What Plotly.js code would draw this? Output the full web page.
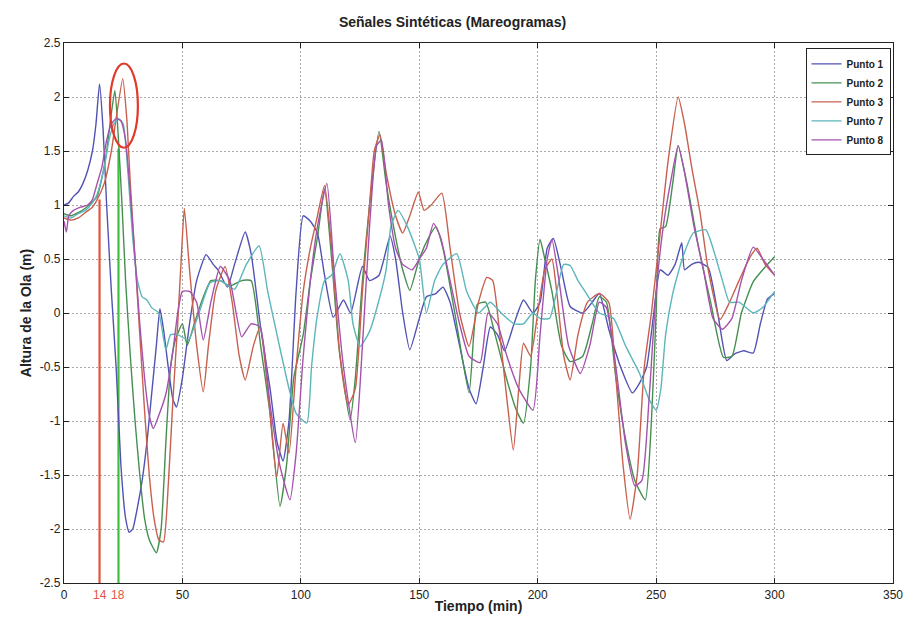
<!DOCTYPE html>
<html>
<head>
<meta charset="utf-8">
<script src="https://cdn.plot.ly/plotly-3.0.1.min.js"></script>
<style>html,body{margin:0;padding:0;background:#fff;}#chart{width:905px;height:620px;}</style>
</head>
<body>
<div id="chart"></div>
<script>
// Punto 1 (blue)
const p1x = [0,2,4,6,8,10,12,13.5,15,16.5,18,20,22,24,26,27.5,29,31,33,35,37,39,40.5,42,44,46,47.5,50,53,56,60,63,65,69,72,76.5,79,83,87,90,92.5,95,98,101,104,107,110,113.7,118,121,126,129,133,137.7,140,143,146,150,153,157,160,163,167,171,174,177,180,183,186,190,194,198,201,204,206.6,210,213.7,219,223,226,230,235,240,243,246,249,251.7,255,258,260.8,262,265,268,272,276,279.8,283,287,291,294,297,300];
const p1y = [1.0,1.02,1.08,1.12,1.2,1.32,1.5,1.75,2.12,1.7,1.0,0.2,-0.5,-1.4,-1.9,-2.03,-2.0,-1.8,-1.55,-1.2,-0.75,-0.3,0.04,-0.15,-0.5,-0.8,-0.87,-0.6,-0.1,0.3,0.54,0.45,0.4,0.24,0.45,0.75,0.55,-0.13,-0.7,-1.2,-1.37,-1.0,0.2,0.9,0.85,0.74,0.35,-0.04,0.12,0.0,0.43,0.3,0.35,0.71,0.5,0.0,-0.34,-0.05,0.15,0.18,0.24,0.1,-0.3,-0.7,-0.84,-0.5,-0.13,-0.2,-0.35,-0.1,0.12,0.0,0.1,0.6,0.69,0.4,0.06,0.0,0.1,0.18,-0.15,-0.5,-0.74,-0.65,-0.5,0.0,0.4,0.35,0.45,0.65,0.4,0.45,0.47,0.42,0.0,-0.44,-0.38,-0.35,-0.37,-0.1,0.13,0.18];

// Punto 2 (green)
const p2x = [0,3,6,9,12,14,16,18,20,21.5,23,24.5,26,28,30,32,34,36,39,41,43,45,47,50,52,55,58,62,66,70,75,79,83,87,91.2,94,97,101,104,107,110,113,116,120.8,123,126,129,133,136,140,143,146,150,154,157,160,165,171,173,174.5,178,182,187,191,194,197,199,201,203,206,210,213.7,219,223,226,229,233,237.7,241,245.4,248,250,251.7,254,257,259.3,263,268,273,278.4,282,286,291,295,300];
const p2y = [0.92,0.9,0.93,0.97,1.03,1.08,1.25,1.5,1.85,2.06,1.6,1.0,0.3,-0.4,-1.0,-1.5,-1.9,-2.1,-2.22,-2.0,-1.2,-0.5,-0.25,-0.1,-0.3,-0.1,0.1,0.3,0.3,0.25,0.3,0.3,-0.3,-0.93,-1.79,-1.4,-0.6,-0.2,0.3,0.7,1.15,0.5,-0.3,-0.99,-0.6,0.3,1.0,1.68,1.2,0.7,0.4,0.21,0.5,0.7,0.8,0.6,0.0,-0.74,-0.2,0.08,0.1,-0.2,-0.62,-0.9,-1.02,-0.5,0.3,0.68,0.5,0.2,-0.3,-0.45,-0.4,-0.1,0.15,0.1,-0.6,-1.24,-1.55,-1.73,-1.0,0.0,0.78,0.8,1.2,1.55,1.2,0.6,0.1,-0.41,-0.4,0.0,0.29,0.4,0.52];

// Punto 3 (red)
const p3x = [0,3,6,9,12,14,17,20,22,24.8,26.5,28,30,32,34,36,38,40,42,44,46,48,49.5,50.8,53,56,58.8,61,64,68,71,74,76.5,80,82.8,86,89.8,92.5,95,98,101,104,107,110,113,116.5,120,123,126,129,131,133.4,136,140,143,146,149.6,152,155,159.5,163,167,171,175,178.5,181,184,187,189.7,192,194,197,200,203,206,208,211,213.7,217,221,226,230,233,236,239,242,245,248,251.7,255,259.3,262,265,268.6,272,277,281,285,289.7,292.6,296,300];
const p3y = [0.88,0.86,0.88,0.93,0.98,1.05,1.2,1.5,1.8,2.17,1.8,1.2,0.5,-0.2,-0.9,-1.5,-1.9,-2.1,-2.12,-1.6,-0.8,-0.1,0.5,0.97,0.4,-0.3,-0.73,-0.3,0.2,0.43,0.1,-0.4,-0.62,-0.3,-0.13,-0.7,-1.52,-1.02,-1.3,-0.5,0.2,0.6,0.9,1.18,0.6,-0.4,-0.85,-0.7,0.2,1.0,1.5,1.65,1.3,0.9,0.74,0.9,1.12,0.95,1.0,1.11,0.6,0.0,-0.31,0.1,0.33,0.3,-0.2,-0.8,-1.27,-0.7,-0.28,-0.4,0.0,0.4,0.5,0.2,-0.4,-0.62,-0.2,0.1,0.18,0.1,-0.6,-1.4,-1.91,-1.5,-0.5,0.0,0.74,1.4,2.0,1.75,1.35,0.92,0.4,-0.06,0.1,0.3,0.52,0.6,0.45,0.35];

// Punto 7 (cyan)
const p7x = [0,3,6,9,12,14,17,19,21,23,25,27,29,31,33,35,37,40,43,45,48,52.5,57,61.7,66,72,77,82.4,86,91,95,98,102.5,104.5,106.7,110,113,116.5,120,122,125,129,133,136,138,141,145,150,153,156.5,160,165.8,170,175,180,184.6,190,194,198,201,205,208,211,213.7,217,220,226,232,237,243,247,250,252,254,257,261,265.7,271,274,278,281,285,291,295,300];
const p7y = [0.9,0.88,0.92,0.95,1.02,1.1,1.35,1.6,1.75,1.8,1.75,1.3,0.7,0.3,0.15,0.12,0.05,0.0,-0.34,-0.2,-0.2,-0.25,0.0,0.28,0.3,0.22,0.45,0.62,0.2,-0.31,-0.7,-0.93,-1.02,-0.5,-0.06,0.3,0.35,0.55,0.3,-0.1,-0.31,-0.17,0.12,0.4,0.8,0.95,0.8,0.5,0.0,0.3,0.45,0.55,0.2,0.0,0.1,0.0,-0.1,-0.1,0.0,-0.05,-0.05,0.2,0.45,0.44,0.3,0.2,0.0,-0.05,-0.3,-0.56,-0.8,-0.9,-0.7,-0.2,0.18,0.5,0.74,0.77,0.6,0.3,0.1,0.1,0.0,0.05,0.2];

// Punto 8 (purple)
const p8x = [0,1,2,4,7,10,12,14,16,18,20,22,24,26,28,30,32,34,36,37.7,40,43,46,48,50,53,56,58.8,62,66,70,75,79,82.8,87,91,95.4,98,101,104,107,111,114,118,123,126,129,132,134,137,140,143,147,150,153,156,159,163,167,171,175.7,179,183,187,192,198,201,204,206,209,213,218,222,226,229,233,237,241,244,247,250,253,256,259.3,262,266,270,274,278,282,286,291,295,300];
const p8y = [0.85,0.75,0.9,0.95,0.98,1.0,1.05,1.2,1.35,1.6,1.75,1.8,1.78,1.6,1.1,0.5,-0.1,-0.6,-0.95,-1.07,-0.95,-0.75,-0.35,0.0,0.2,0.2,0.1,-0.25,0.1,0.43,0.3,-0.22,-0.1,-0.13,-0.85,-1.4,-1.73,-1.3,-0.4,0.3,0.8,1.2,0.4,-0.5,-1.2,-0.3,0.8,1.55,1.6,1.0,0.6,0.45,0.4,0.5,0.6,0.83,0.7,0.3,-0.1,-0.4,-0.46,0.0,-0.1,-0.4,-0.7,-0.9,-0.2,0.5,0.68,0.3,-0.3,-0.56,-0.3,0.1,0.05,-0.5,-1.2,-1.6,-1.55,-0.8,0.2,0.8,1.2,1.55,1.3,0.8,0.4,-0.05,-0.15,-0.05,0.3,0.61,0.5,0.35];

const seriesNames = ['Punto 1','Punto 2','Punto 3','Punto 7','Punto 8'];
const seriesColors = ['#5252b4','#468f50','#c8604e','#5cb6ba','#a452ac'];
const seriesX = [p1x,p2x,p3x,p7x,p8x];
const seriesY = [p1y,p2y,p3y,p7y,p8y];

// marker lines (arrival times)
const markX = [15, 23];
const markTop = [1.05, 1.52];
const markLabels = ['14','18'];
const markColors = ['#e0553f','#3fbf3f'];

const xTicks = [0,50,100,150,200,250,300,350];
const yTicks = [2.5,2,1.5,1,0.5,0,-0.5,-1,-1.5,-2,-2.5];

const font = '"Liberation Sans Narrow", "Arial Narrow", "Liberation Sans", Arial, sans-serif';

const traces = [];
for (let i = 0; i < markX.length; i++) {
  traces.push({x:[markX[i],markX[i]], y:[-2.5, markTop[i]], mode:'lines', showlegend:false,
    line:{color:markColors[i], width:2.2}, hoverinfo:'skip'});
}
for (let i = 0; i < seriesNames.length; i++) {
  traces.push({x:seriesX[i], y:seriesY[i], name:seriesNames[i], mode:'lines',
    line:{color:seriesColors[i], width:1.4, shape:'spline', smoothing:0.5}});
}

const axisCommon = {
  showline:true, linecolor:'#222', linewidth:1.2, mirror:'ticks',
  ticks:'inside', ticklen:5, tickcolor:'#222',
  showgrid:true, gridcolor:'#a8a8a8', griddash:'2px,2px', gridwidth:1,
  zeroline:false, tickfont:{family:font, size:12, color:'#222'}
};

const layout = {
  width:905, height:620,
  margin:{l:64, r:12, t:43, b:37},
  paper_bgcolor:'#fff', plot_bgcolor:'#fff',
  title:{text:'<b>Señales Sintéticas (Mareogramas)</b>', x:0.5, xanchor:'center', y:0.965, yanchor:'middle',
    font:{family:font, size:14, color:'#222'}},
  xaxis:Object.assign({}, axisCommon, {range:[0,350], tickvals:xTicks, ticktext:xTicks.map(String),
    title:{text:'<b>Tiempo (min)</b>', standoff:0, font:{family:font, size:14, color:'#222'}}}),
  yaxis:Object.assign({}, axisCommon, {range:[-2.5,2.5], tickvals:yTicks, ticktext:yTicks.map(String),
    title:{text:'<b>Altura de la Ola (m)</b>', standoff:4, font:{family:font, size:14, color:'#222'}}}),
  showlegend:true,
  legend:{x:0.997, xanchor:'right', y:0.99, yanchor:'top', bgcolor:'#fff', bordercolor:'#222', borderwidth:1,
    font:{family:font, size:10, color:'#222', weight:'bold'}, itemwidth:30, tracegroupgap:0},
  shapes:[{type:'circle', xref:'x', yref:'y', x0:19.4, x1:31.2, y0:1.53, y1:2.31,
    line:{color:'#e03a2a', width:2.2}}],
  annotations: markX.map((mx,i)=>({x:mx, y:0, xref:'x', yref:'paper', yanchor:'top', yshift:-3,
    text:markLabels[i], showarrow:false, font:{family:font, size:12, color:'#e0553f'}}))
};

Plotly.newPlot('chart', traces, layout, {displayModeBar:false, staticPlot:true});
</script>
</body>
</html>
